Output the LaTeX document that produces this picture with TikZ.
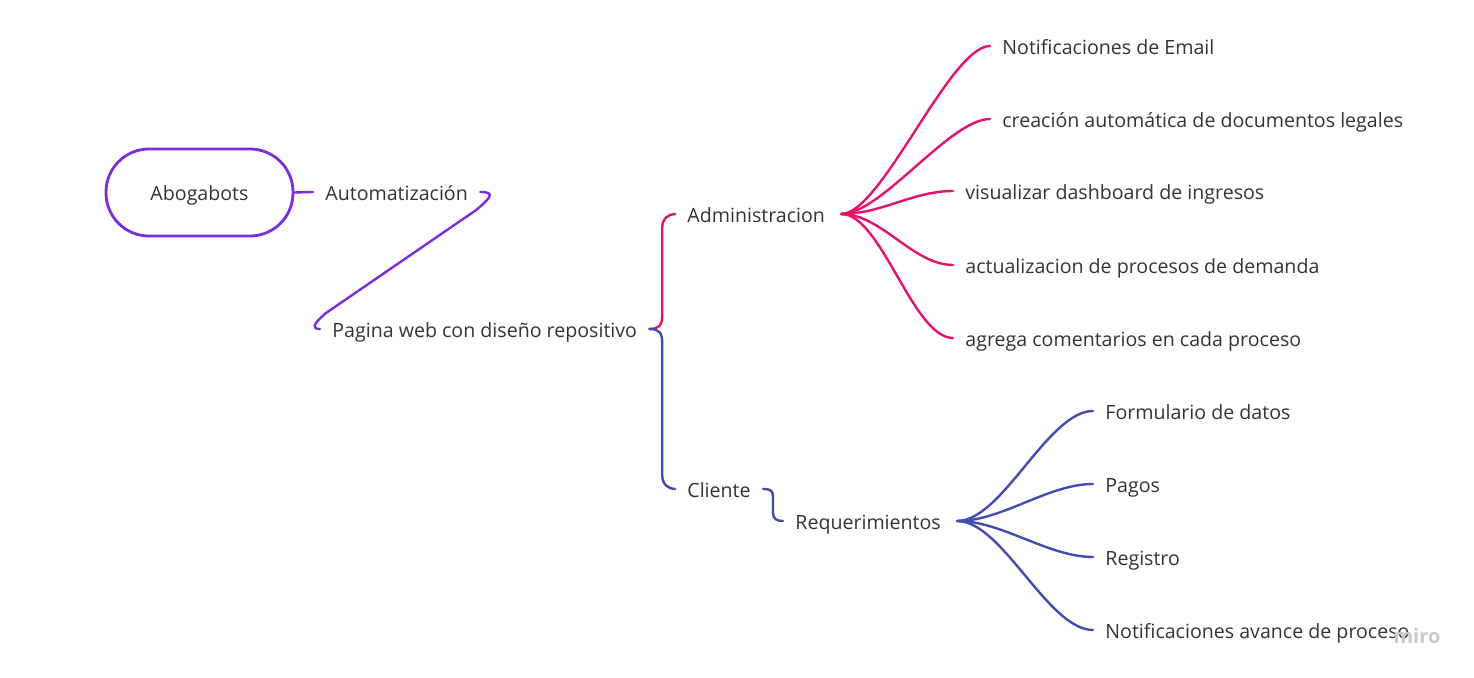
\documentclass[tikz,border=0pt]{standalone}
\usepackage{fontspec}
\setmainfont{Open Sans}
\usetikzlibrary{calc}
\definecolor{cpurple}{HTML}{7B2BE6}
\definecolor{cpink}{HTML}{E8106E}
\definecolor{cblue}{HTML}{414BB2}
\definecolor{ctext}{HTML}{333333}
\definecolor{cmiro}{HTML}{C8C8D2}
\begin{document}
\begin{tikzpicture}[x=0.5pt,y=-0.5pt,
  lbl/.style={anchor=west,inner xsep=6pt,inner ysep=0pt,text height=8.3pt,text depth=0pt,text=ctext,font=\fontsize{9.8}{11}\selectfont},
  rootbox/.style={draw=cpurple,line width=1.4pt,rounded corners=21.5pt,minimum width=93.5pt,minimum height=43.5pt,inner sep=0pt,text height=8.3pt,text depth=0pt,text=ctext,font=\fontsize{9.8}{11}\selectfont},
  conn/.style={line width=1.2pt,line cap=round},
  pconn/.style={conn,draw=cpurple},
  kconn/.style={conn,draw=cpink},
  bconn/.style={conn,draw=cblue}]
\useasboundingbox (0,0) rectangle (1474,678);
% nodes
\node[rootbox] (root) at (199.5,192.5) {Abogabots};
\node[lbl] (auto) at (313,192) {Automatización};
\node[lbl] (web) at (320,329) {Pagina web con diseño repositivo};
\node[lbl] (adm) at (675,214) {Administracion};
\node[lbl] (cli) at (675,489) {Cliente};
\node[lbl] (req) at (783,521) {Requerimientos};
\node[lbl] (a1) at (990,46) {Notificaciones de Email};
\node[lbl] (a2) at (990,119) {creación automática de documentos legales};
\node[lbl] (a3) at (953,191) {visualizar dashboard de ingresos};
\node[lbl] (a4) at (953,265) {actualizacion de procesos de demanda};
\node[lbl] (a5) at (953,338) {agrega comentarios en cada proceso};
\node[lbl] (r1) at (1093,411) {Formulario de datos};
\node[lbl] (r2) at (1093,484) {Pagos};
\node[lbl] (r3) at (1093,557) {Registro};
\node[lbl] (r4) at (1093,630) {Notificaciones avance de proceso};
\node[text=cmiro,font=\fontsize{10}{12}\selectfont\bfseries,anchor=center] (miro) at (1417,636) {miro};
\coordinate (admS) at ([xshift=2pt]adm.east);
\coordinate (reqS) at ([xshift=2pt]req.east);
\coordinate (webS) at (web.east);
\coordinate (bx) at ($(webS)!0.5!(adm.west)$);
\coordinate (cx) at ($(cli.east)!0.5!(req.west)$);
% connectors
\draw[pconn] (root.east) -- (auto.west);
\draw[pconn] (auto.east) .. controls +(16,0) and +(14,-12) .. ([shift={(-4,18)}]auto.east) -- ([shift={(6,-16)}]web.west) .. controls +(-14,12) and +(-8,0) .. (web.west);
\draw[kconn] (webS) .. controls +(10,0) and +(0,10) .. ($(bx |- webS)+(0,-14)$) -- ($(bx |- adm.west)+(0,14)$) .. controls +(0,-10) and +(-6,0) .. (adm.west);
\draw[bconn] (webS) .. controls +(10,0) and +(0,-10) .. ($(bx |- webS)+(0,14)$) -- ($(bx |- cli.west)+(0,-14)$) .. controls +(0,10) and +(-6,0) .. (cli.west);
\draw[bconn] (cli.east) .. controls +(8,0) and +(0,-6) .. ($(cx |- cli.east)+(0,8)$) -- ($(cx |- req.west)+(0,-8)$) .. controls +(0,6) and +(-6,0) .. (req.west);
\foreach \t in {a1,a2,a3,a4,a5}
  \draw[kconn] (admS) .. controls +(40,0) and +(-40,0) .. (\t.west);
\foreach \t in {r1,r2,r3,r4}
  \draw[bconn] (reqS) .. controls +(45,0) and +(-45,0) .. (\t.west);
\end{tikzpicture}
\end{document}
